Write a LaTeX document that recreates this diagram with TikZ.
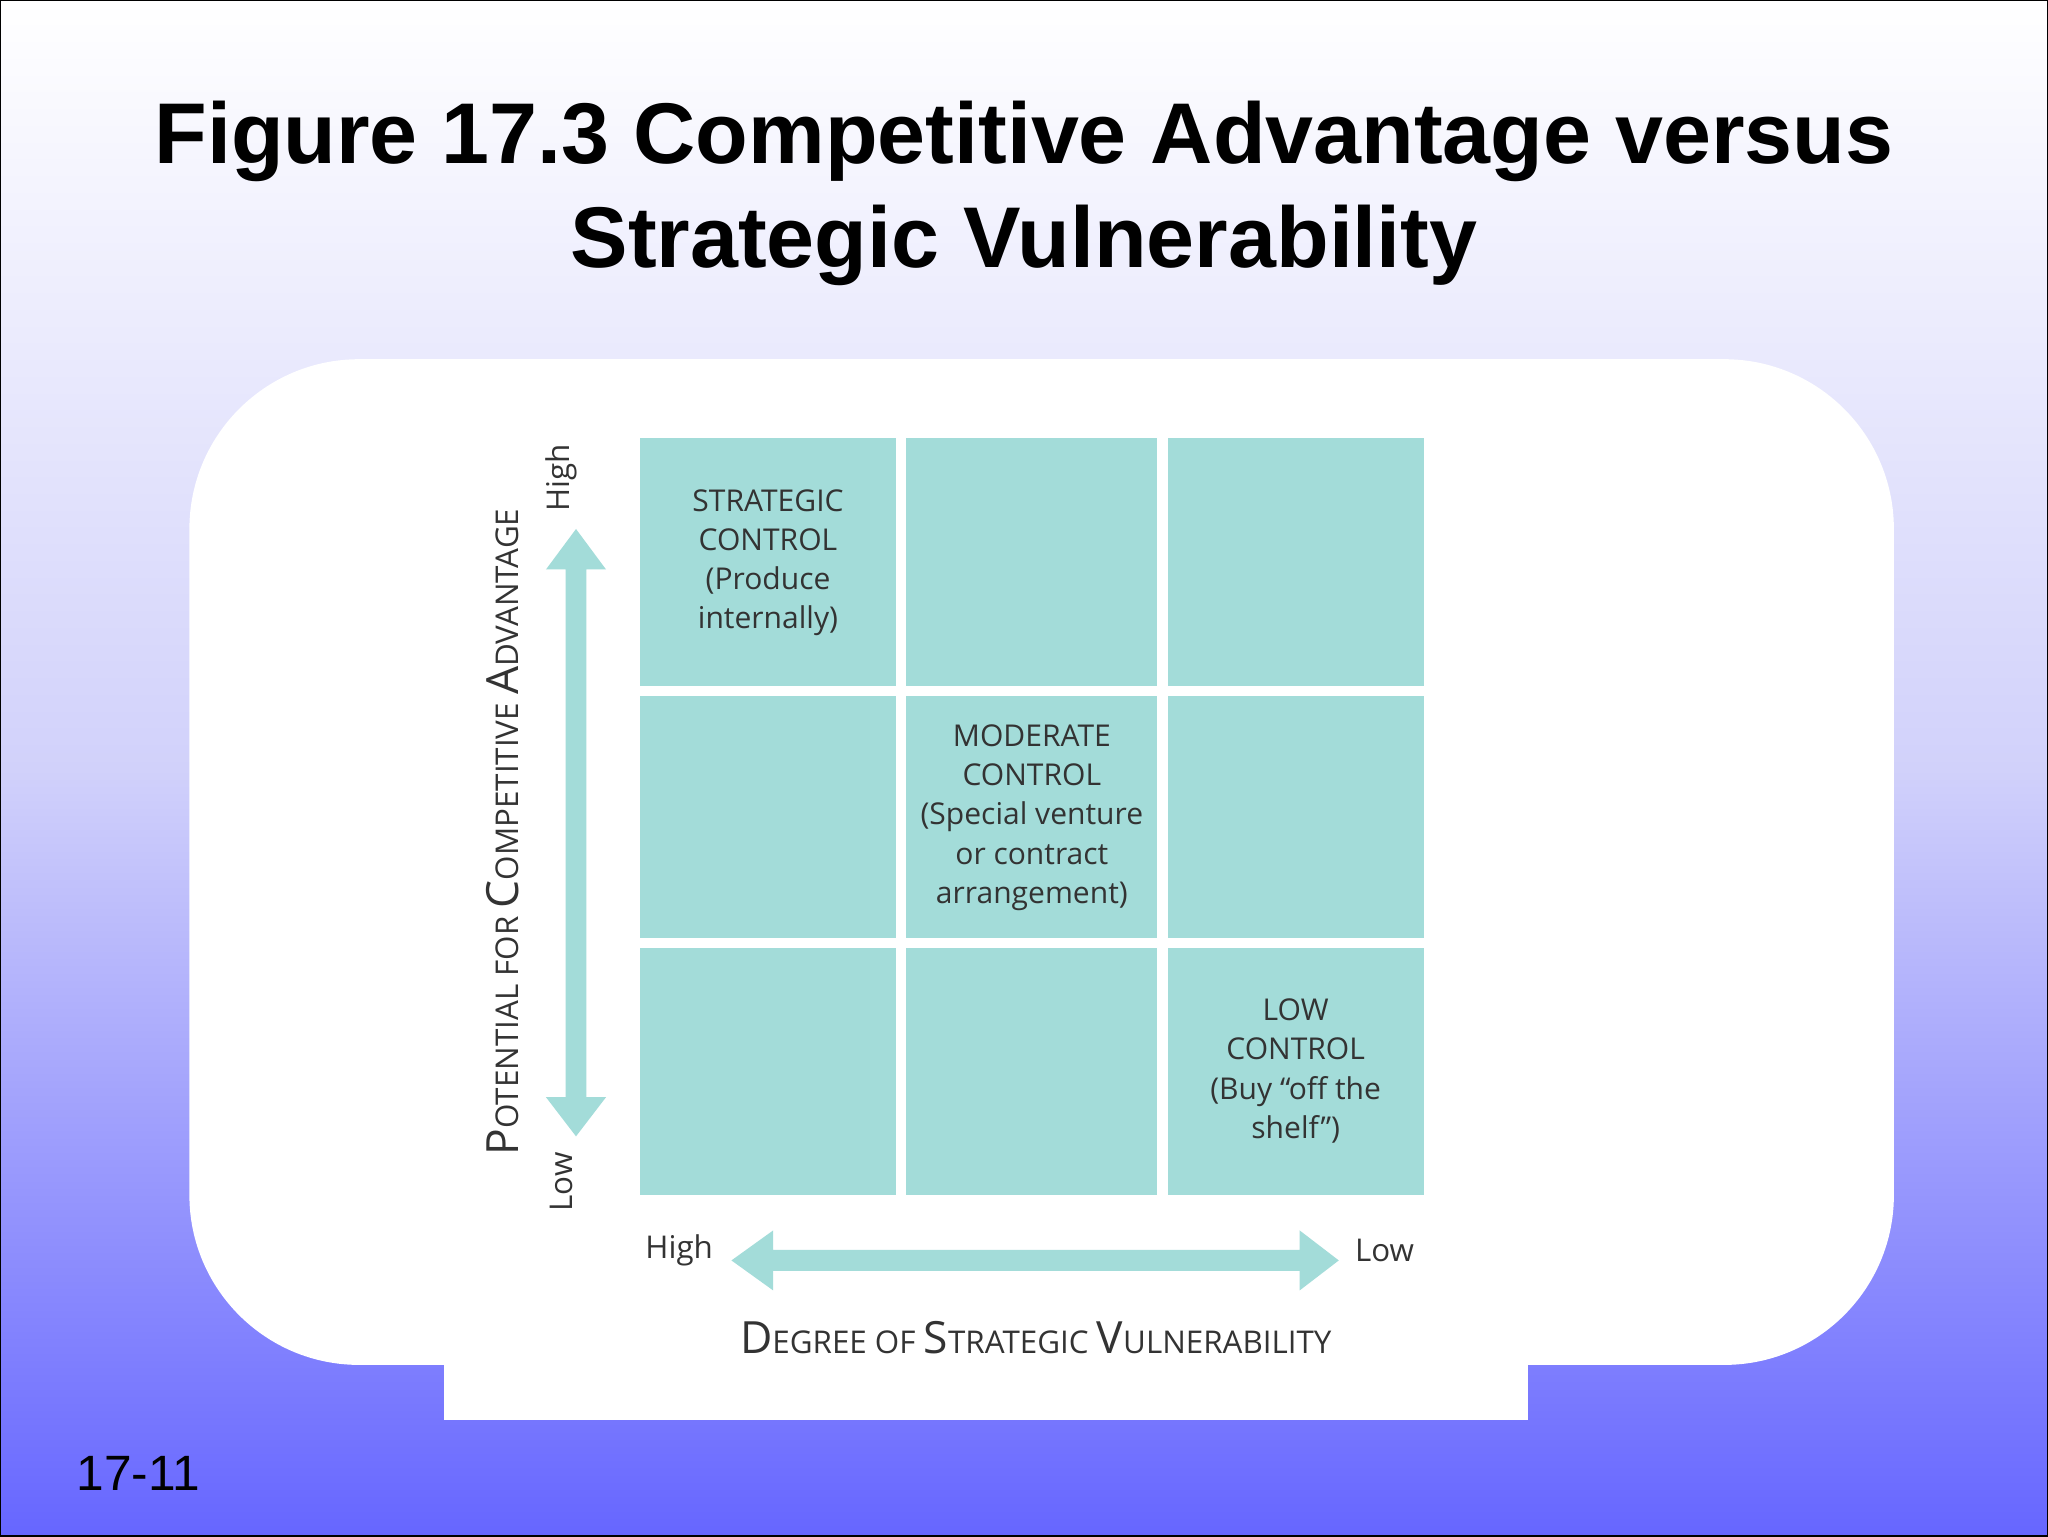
\documentclass[tikz,border=0pt]{standalone}
\usepackage{fontspec}
\setmainfont{Liberation Sans}
\newfontfamily\lab{Open Sans}
\definecolor{cellc}{HTML}{A3DCD9}
\definecolor{botc}{HTML}{6666FF}
\tikzset{cell/.style={fill=cellc,draw=none},
 ct/.style={font=\lab\fontsize{23}{30}\selectfont,color=black!80,align=center},
 ax/.style={font=\lab\fontsize{24}{28}\selectfont,color=black!80},
 arr/.style={fill=cellc,draw=none}}
\newcommand{\bigc}[1]{{\fontsize{34}{36}\selectfont #1}}
\begin{document}
\begin{tikzpicture}[x=1pt,y=-1pt]
\shade[top color=white,bottom color=botc,middle color=black!10!blue!18!white] (0,0) rectangle (1568,1176);
\useasboundingbox (0,0) rectangle (1568,1176);
\draw[black,line width=1pt] (0,0) rectangle (1568,1176);
\node[font=\bfseries\fontsize{66}{80}\selectfont,align=center] (title) at (784,148) {Figure 17.3 Competitive Advantage versus\\Strategic Vulnerability};
\fill[white,rounded corners=130pt] (145,275) rectangle (1450,1045);
\fill[white] (340,1000) rectangle (1170,1087);
% cells
\foreach \xa/\xb [count=\i] in {490/686,694/886,894/1090}{
 \foreach \ya/\yb [count=\j] in {335/525,533/718,726/915}{
  \fill[cell] (\xa,\ya) rectangle (\xb,\yb);}}
\node[ct] (c1) at (588,431) {STRATEGIC\\CONTROL\\(Produce\\internally)};
\node[ct] (c2) at (790,626) {MODERATE\\CONTROL\\(Special venture\\or contract\\arrangement)};
\node[ct] (c3) at (992,820) {LOW\\CONTROL\\(Buy “off the\\shelf”)};
% vertical arrow
\fill[arr] (433,436) -- (418,436) -- (441,405) -- (464,436) -- (449,436) -- (449,840) -- (464,840) -- (441,870) -- (418,840) -- (433,840) -- cycle;
% horizontal arrow
\fill[arr] (592,957) -- (592,942) -- (560,965) -- (592,988) -- (592,973) -- (995,973) -- (995,988) -- (1025,965) -- (995,942) -- (995,957) -- cycle;
\node[ax,rotate=90] (vh) at (430,366) {High};
\node[ax,rotate=90] (vl) at (430,905) {Low};
\node[ax] (hh) at (520,957) {High};
\node[ax] (hl) at (1060,957) {Low};
\node[font=\lab\fontsize{24}{28}\selectfont,color=black!80,rotate=90] (vt) at (385,637) {\bigc{P}OTENTIAL FOR \bigc{C}OMPETITIVE \bigc{A}DVANTAGE};
\node[font=\lab\fontsize{24}{28}\selectfont,color=black!80] (ht) at (793,1024) {\bigc{D}EGREE OF \bigc{S}TRATEGIC \bigc{V}ULNERABILITY};
\node[font=\fontsize{38}{40}\selectfont,anchor=west] (num) at (55,1128) {17-11};
\end{tikzpicture}
\end{document}
